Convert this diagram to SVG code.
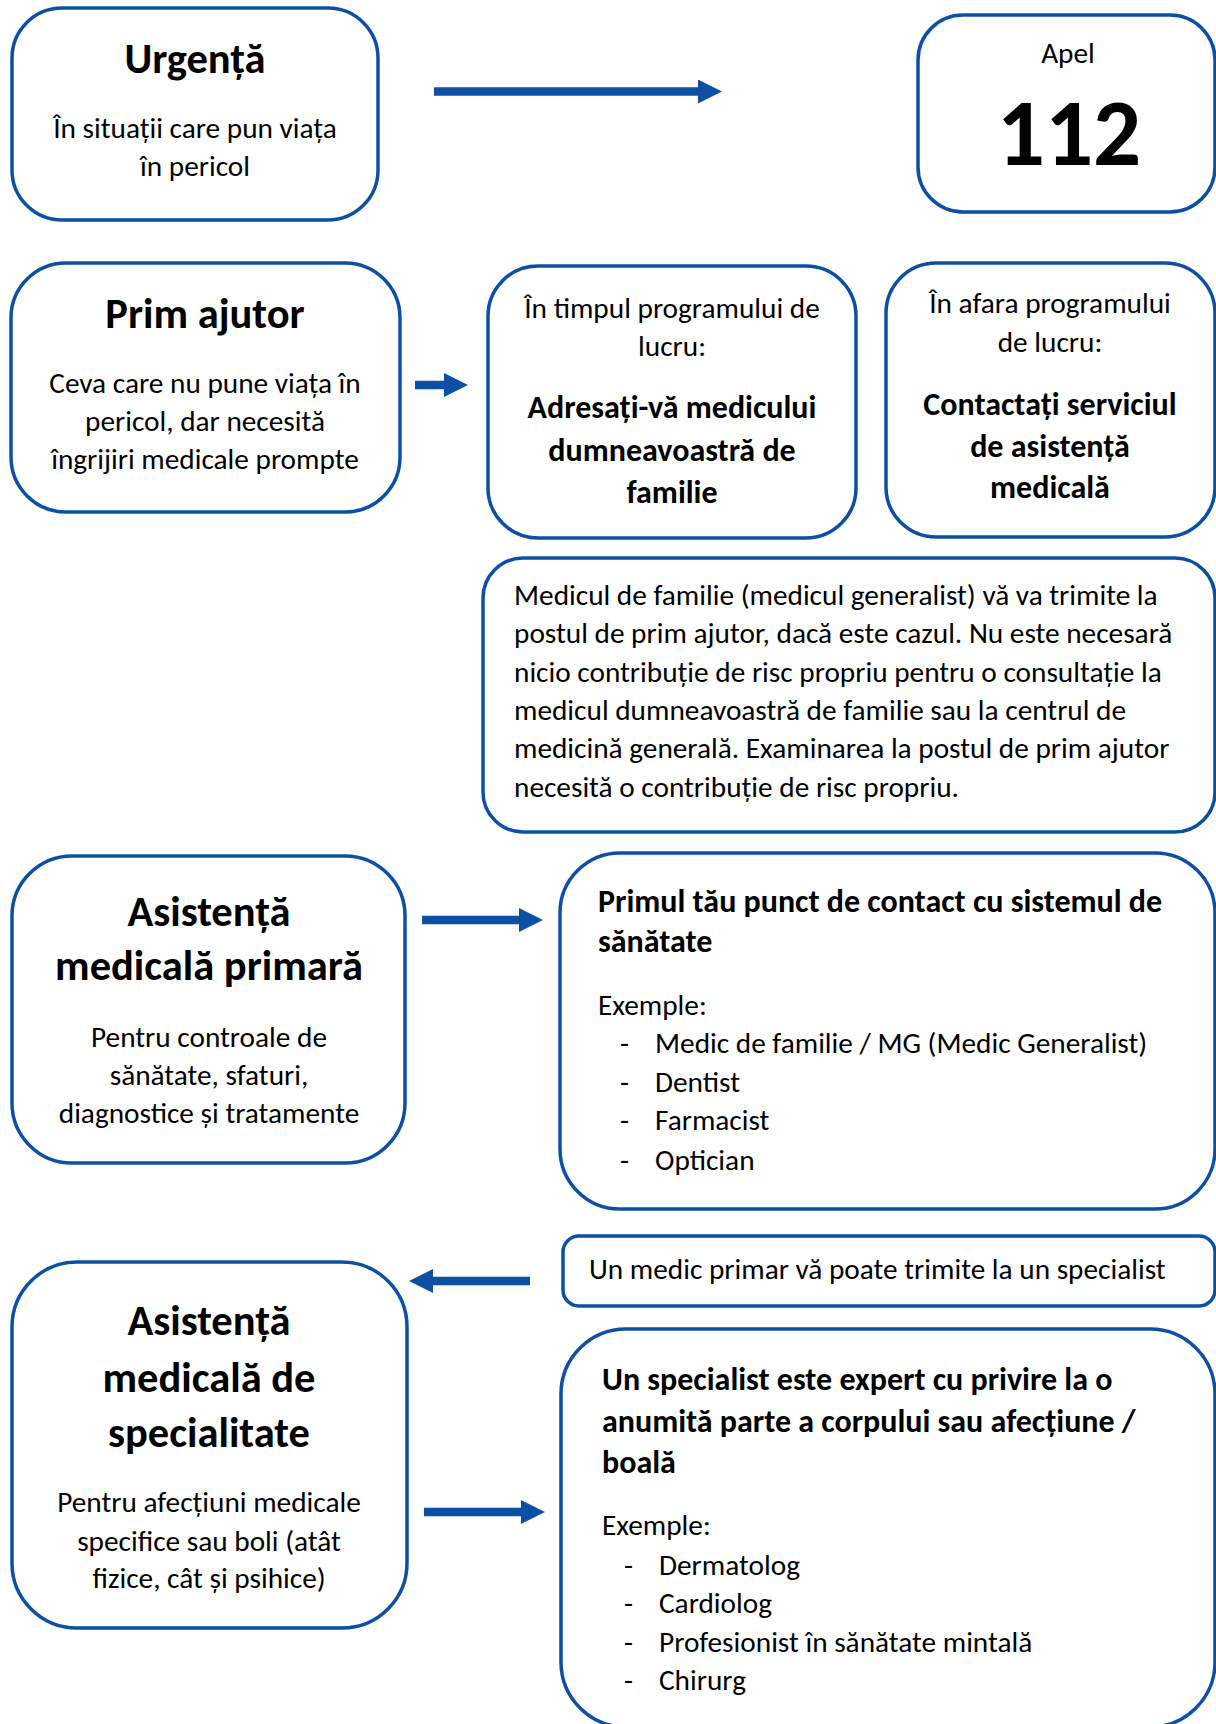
<svg xmlns="http://www.w3.org/2000/svg" width="1216" height="1724" viewBox="0 0 1216 1724">
<defs>
<style>
.box{fill:#fff;stroke:#0d50a3;stroke-width:3.5}
text{font-family:Carlito,Calibri,Lato,"Noto Sans",sans-serif;fill:#000}
.b{font-size:29.3px}
.s{font-size:32px;font-weight:700}
.h{font-size:42.5px;font-weight:700}
.c{text-anchor:middle}
.conn line{stroke:#0d50a3;stroke-width:8.5}
</style>
<marker id="ah" markerUnits="userSpaceOnUse" markerWidth="25" markerHeight="25" refX="0" refY="12" orient="auto">
<path d="M0,0 L24,12 L0,24 z" fill="#0d50a3"/>
</marker>
</defs>
<rect width="1216" height="1724" fill="#fff"/>

<g id="urgenta">
<rect class="box" x="12" y="8" width="366" height="212" rx="50"/>
<text class="h c" x="195" y="73">Urgență</text>
<text class="b c" x="195" y="138">În situații care pun viața</text>
<text class="b c" x="195" y="176">în pericol</text>
</g>

<g id="apel">
<rect class="box" x="918" y="15" width="297" height="197" rx="45"/>
<text class="b c" x="1068" y="63">Apel</text>
<text class="c" x="1069" y="165" style="font-size:95px;font-weight:700">112</text>
</g>

<g id="prim-ajutor">
<rect class="box" x="11" y="263" width="389" height="249" rx="55"/>
<text class="h c" x="205" y="328">Prim ajutor</text>
<text class="b c" x="205" y="393">Ceva care nu pune viața în</text>
<text class="b c" x="205" y="431">pericol, dar necesită</text>
<text class="b c" x="205" y="469">îngrijiri medicale prompte</text>
</g>

<g id="in-timpul">
<rect class="box" x="488" y="266" width="368" height="272" rx="50"/>
<text class="b c" x="672" y="318">În timpul programului de</text>
<text class="b c" x="672" y="356">lucru:</text>
<text class="s c" x="672" y="418">Adresați-vă medicului</text>
<text class="s c" x="672" y="461">dumneavoastră de</text>
<text class="s c" x="672" y="503">familie</text>
</g>

<g id="in-afara">
<rect class="box" x="886" y="263" width="329" height="274" rx="50"/>
<text class="b c" x="1050" y="313">În afara programului</text>
<text class="b c" x="1050" y="352">de lucru:</text>
<text class="s c" x="1050" y="415">Contactați serviciul</text>
<text class="s c" x="1050" y="457">de asistență</text>
<text class="s c" x="1050" y="498">medicală</text>
</g>

<g id="medicul-de-familie">
<rect class="box" x="483" y="558" width="732" height="274" rx="40"/>
<text class="b" x="514" y="605">Medicul de familie (medicul generalist) vă va trimite la</text>
<text class="b" x="514" y="643">postul de prim ajutor, dacă este cazul. Nu este necesară</text>
<text class="b" x="514" y="682">nicio contribuție de risc propriu pentru o consultație la</text>
<text class="b" x="514" y="720">medicul dumneavoastră de familie sau la centrul de</text>
<text class="b" x="514" y="758">medicină generală. Examinarea la postul de prim ajutor</text>
<text class="b" x="514" y="797">necesită o contribuție de risc propriu.</text>
</g>

<g id="asistenta-primara">
<rect class="box" x="12" y="856" width="393" height="307" rx="60"/>
<text class="h c" x="209" y="926">Asistență</text>
<text class="h c" x="209" y="980">medicală primară</text>
<text class="b c" x="209" y="1047">Pentru controale de</text>
<text class="b c" x="209" y="1085">sănătate, sfaturi,</text>
<text class="b c" x="209" y="1123">diagnostice și tratamente</text>
</g>

<g id="primul-contact">
<rect class="box" x="560" y="853" width="655" height="356" rx="60"/>
<text class="s" x="598" y="912">Primul tău punct de contact cu sistemul de</text>
<text class="s" x="598" y="952">sănătate</text>
<text class="b" x="598" y="1015">Exemple:</text>
<text class="b" x="620" y="1053">-</text>
<text class="b" x="655" y="1053">Medic de familie / MG (Medic Generalist)</text>
<text class="b" x="620" y="1092">-</text>
<text class="b" x="655" y="1092">Dentist</text>
<text class="b" x="620" y="1130">-</text>
<text class="b" x="655" y="1130">Farmacist</text>
<text class="b" x="620" y="1170">-</text>
<text class="b" x="655" y="1170">Optician</text>
</g>

<g id="trimitere">
<rect class="box" x="563" y="1236" width="652" height="70" rx="16"/>
<text class="b" x="589" y="1279">Un medic primar vă poate trimite la un specialist</text>
</g>

<g id="asistenta-specialitate">
<rect class="box" x="12" y="1262" width="395" height="366" rx="65"/>
<text class="h c" x="209" y="1335">Asistență</text>
<text class="h c" x="209" y="1392">medicală de</text>
<text class="h c" x="209" y="1447">specialitate</text>
<text class="b c" x="209" y="1512">Pentru afecțiuni medicale</text>
<text class="b c" x="209" y="1551">specifice sau boli (atât</text>
<text class="b c" x="209" y="1588">fizice, cât și psihice)</text>
</g>

<g id="specialist">
<rect class="box" x="561" y="1329" width="654" height="398" rx="65"/>
<text class="s" x="602" y="1390">Un specialist este expert cu privire la o</text>
<text class="s" x="602" y="1432">anumită parte a corpului sau afecțiune /</text>
<text class="s" x="602" y="1473">boală</text>
<text class="b" x="602" y="1535">Exemple:</text>
<text class="b" x="624" y="1575">-</text>
<text class="b" x="659" y="1575">Dermatolog</text>
<text class="b" x="624" y="1613">-</text>
<text class="b" x="659" y="1613">Cardiolog</text>
<text class="b" x="624" y="1652">-</text>
<text class="b" x="659" y="1652">Profesionist în sănătate mintală</text>
<text class="b" x="624" y="1690">-</text>
<text class="b" x="659" y="1690">Chirurg</text>
</g>

<g id="connectors" class="conn">
<line x1="434" y1="91.5" x2="698" y2="91.5" marker-end="url(#ah)"/>
<line x1="415" y1="385" x2="444" y2="385" marker-end="url(#ah)"/>
<line x1="422" y1="920" x2="519" y2="920" marker-end="url(#ah)"/>
<line x1="530" y1="1281" x2="433" y2="1281" marker-end="url(#ah)"/>
<line x1="424" y1="1512" x2="521" y2="1512" marker-end="url(#ah)"/>
</g>
</svg>
